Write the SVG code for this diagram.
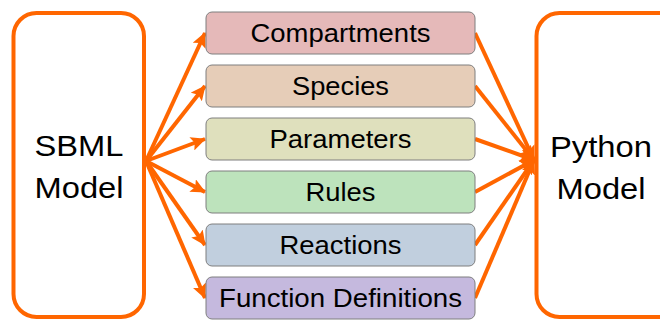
<svg xmlns="http://www.w3.org/2000/svg" width="660" height="320" viewBox="0 0 660 320">
<defs>
<marker id="ah" markerUnits="userSpaceOnUse" markerWidth="16" markerHeight="14" refX="14" refY="7" orient="auto">
<path d="M0,0 L15,7 L0,14 L3,7 Z" fill="#ff6600"/>
</marker>
<style>
.big{fill:#fff;stroke:#ff6600;stroke-width:4}
.box{stroke:#7f7f7f;stroke-width:1}
.t{font-family:"Liberation Sans",Arial,sans-serif;fill:#000;text-anchor:middle}
.m{font-size:25px}
.b{font-size:30px}
.c{stroke:#ff6600;stroke-width:4;fill:none}
.a{marker-end:url(#ah)}
</style>
</defs>
<rect width="660" height="320" fill="#fff"/>
<g id="connectors">
<line class="c a" x1="146" y1="161" x2="205" y2="33"/>
<line class="c a" x1="146" y1="161" x2="205" y2="86"/>
<line class="c a" x1="146" y1="161" x2="205" y2="139"/>
<line class="c a" x1="146" y1="161" x2="205" y2="192"/>
<line class="c a" x1="146" y1="161" x2="205" y2="245"/>
<line class="c a" x1="146" y1="161" x2="205" y2="298"/>
<line class="c a" x1="475" y1="33" x2="534" y2="160"/>
<line class="c a" x1="475" y1="86" x2="534" y2="160"/>
<line class="c a" x1="475" y1="139" x2="534" y2="160"/>
<line class="c a" x1="475" y1="192" x2="534" y2="160"/>
<line class="c a" x1="475" y1="245" x2="534" y2="160"/>
<line class="c a" x1="475" y1="298" x2="534" y2="160"/>
</g>
<g id="sbml">
<rect class="big" x="13.5" y="13" width="130.5" height="304" rx="23"/>
<text class="t b" x="79" y="156" textLength="89" lengthAdjust="spacingAndGlyphs">SBML</text>
<text class="t b" x="79" y="198" textLength="89" lengthAdjust="spacingAndGlyphs">Model</text>
</g>
<g id="python">
<rect class="big" x="536.5" y="13" width="160" height="304" rx="23"/>
<text class="t b" x="601" y="157" textLength="102" lengthAdjust="spacingAndGlyphs">Python</text>
<text class="t b" x="601" y="199" textLength="89" lengthAdjust="spacingAndGlyphs">Model</text>
</g>
<g id="compartments">
<rect class="box" x="206" y="12" width="269" height="42" rx="6" fill="#e5b9b9"/>
<text class="t m" x="340.5" y="42" textLength="180" lengthAdjust="spacingAndGlyphs">Compartments</text>
</g>
<g id="species">
<rect class="box" x="206" y="65" width="269" height="42" rx="6" fill="#e6cdb8"/>
<text class="t m" x="340.5" y="95" textLength="97" lengthAdjust="spacingAndGlyphs">Species</text>
</g>
<g id="parameters">
<rect class="box" x="206" y="118" width="269" height="42" rx="6" fill="#dfe0bd"/>
<text class="t m" x="340.5" y="148" textLength="142" lengthAdjust="spacingAndGlyphs">Parameters</text>
</g>
<g id="rules">
<rect class="box" x="206" y="171" width="269" height="42" rx="6" fill="#bde3bc"/>
<text class="t m" x="340.5" y="201" textLength="70" lengthAdjust="spacingAndGlyphs">Rules</text>
</g>
<g id="reactions">
<rect class="box" x="206" y="224" width="269" height="42" rx="6" fill="#c1cfde"/>
<text class="t m" x="340.5" y="254" textLength="122" lengthAdjust="spacingAndGlyphs">Reactions</text>
</g>
<g id="functiondefinitions">
<rect class="box" x="206" y="277" width="269" height="42" rx="6" fill="#c5b9de"/>
<text class="t m" x="340.5" y="307" textLength="243" lengthAdjust="spacingAndGlyphs">Function Definitions</text>
</g>
</svg>
